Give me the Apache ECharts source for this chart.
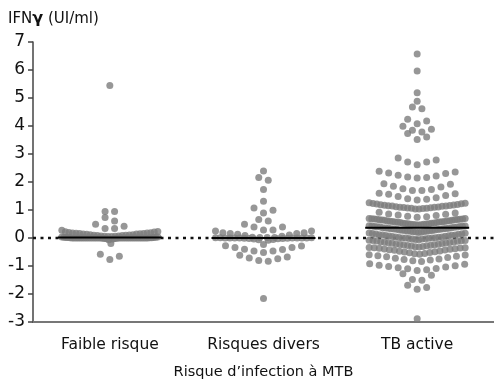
<!DOCTYPE html>
<html>
<head>
<meta charset="utf-8">
<script src="https://cdn.jsdelivr.net/npm/echarts@6/dist/echarts.min.js"></script>
<style>
  html, body { margin: 0; padding: 0; background: #fff; }
  #chart { width: 494px; height: 390px; }
</style>
</head>
<body>
<div id="chart"></div>
<script>
// Groups along the x axis
const categories = ['Faible risque', 'Risques divers', 'TB active'];
const axisTitle = 'Risque d\u2019infection \u00e0 MTB';
const yTicks = [-3, 7, 1]; // min, max, step

// IFN-gamma responses (UI/ml), one value per subject
const lowRisk = [
  5.45, 0.95, 0.95, 0.73, 0.61, 0.49, 0.42, 0.335, 0.335, 0.275,
  -0.58, -0.65, -0.77,
  -0.2, -0.06, -0.04, -0.03, -0.02, -0.02, -0.01, -0.01,
  0, 0, 0, 0, 0, 0, 0, 0, 0, 0, 0, 0, 0, 0, 0, 0, 0, 0, 0, 0, 0, 0, 0, 0, 0, 0, 0, 0, 0, 0,
  0.01, 0.01, 0.01, 0.02, 0.02, 0.02, 0.03, 0.03, 0.04, 0.04,
  0.05, 0.05, 0.06, 0.06, 0.07, 0.07, 0.09, 0.09, 0.1, 0.1, 0.11, 0.12, 0.12, 0.13, 0.14, 0.14,
  0.15, 0.16, 0.16, 0.17, 0.18, 0.18, 0.19, 0.2, 0.21, 0.22, 0.23
];

const variousRisks = [
  2.39, 2.16, 2.06, 1.73, 1.31, 1.07, 0.99, 0.89, 0.66, 0.61, 0.49, 0.39, 0.39, 0.29, 0.29,
  0.03, 0.06, 0.09, 0.11, 0.13, 0.16, 0.16, 0.19, 0.19, 0.25, 0.25,
  -0.23, -0.08, -0.06, -0.05, -0.04, -0.03, -0.02, -0.02, -0.01, -0.01,
  0, 0, 0, 0, 0, 0, 0, 0, 0.01, 0.01, 0.01, 0.02, 0.02, 0.02,
  -0.28, -0.29, -0.34, -0.34, -0.40, -0.41, -0.46, -0.46, -0.52,
  -0.62, -0.68, -0.71, -0.74, -0.80, -0.83,
  -2.16
];

const activeTb = [
  6.57, 5.96, 5.19, 4.88, 4.68, 4.62, 4.24, 4.18, 4.08, 3.99, 3.88, 3.85, 3.79, 3.73, 3.61, 3.52,
  2.86, 2.79, 2.71, 2.71, 2.62,
  2.38, 2.36, 2.32, 2.30, 2.24, 2.21, 2.18, 2.16, 2.14,
  1.94, 1.92, 1.85, 1.82, 1.76, 1.73, 1.70, 1.70,
  1.60, 1.58, 1.56, 1.52, 1.48, 1.44, 1.40, 1.38, 1.36,
  1.04, 1.04, 1.05, 1.06, 1.06, 1.07, 1.08, 1.09, 1.1, 1.1, 1.11, 1.12, 1.13, 1.14, 1.14, 1.15,
  1.16, 1.17, 1.18, 1.19, 1.2, 1.21, 1.22, 1.23, 1.24, 1.26,
  0.74, 0.76, 0.78, 0.80, 0.82, 0.85, 0.86, 0.89, 0.92,
  0.46, 0.47, 0.47, 0.48, 0.49, 0.49, 0.5, 0.51, 0.51, 0.52, 0.53, 0.53, 0.54, 0.55, 0.55, 0.56,
  0.57, 0.57, 0.58, 0.59, 0.59, 0.6, 0.61, 0.61, 0.62, 0.63, 0.63, 0.64, 0.65, 0.65, 0.66, 0.67,
  0.67, 0.68, 0.68, 0.69, 0.7, 0.7,
  0.20, 0.21, 0.21, 0.22, 0.23, 0.24, 0.24, 0.25, 0.26, 0.27, 0.27, 0.28, 0.29, 0.29, 0.3, 0.31,
  0.31, 0.32, 0.33, 0.33, 0.34, 0.35, 0.35, 0.36, 0.37, 0.37, 0.38, 0.39, 0.39, 0.4, 0.41, 0.41,
  0.42, 0.43, 0.43, 0.44,
  -0.06, -0.05, -0.04, -0.04, -0.03, -0.02, -0.01, 0, 0, 0, 0.01, 0.02, 0.03, 0.04, 0.04, 0.05,
  0.06, 0.07, 0.08, 0.09, 0.1, 0.11, 0.11, 0.12, 0.13, 0.14, 0.15, 0.16, 0.17, 0.18,
  -0.32, -0.31, -0.30, -0.29, -0.28, -0.27, -0.26, -0.25, -0.24, -0.23, -0.22, -0.21, -0.20,
  -0.19, -0.18, -0.17, -0.16, -0.15, -0.14, -0.13, -0.12, -0.11, -0.10, -0.09, -0.09, -0.08,
  -0.58, -0.56, -0.55, -0.53, -0.52, -0.50, -0.49, -0.47, -0.46, -0.44, -0.43, -0.42, -0.40,
  -0.39, -0.38, -0.37, -0.36, -0.35, -0.35, -0.34,
  -0.84, -0.81, -0.79, -0.77, -0.75, -0.72, -0.70, -0.67, -0.65, -0.63, -0.61, -0.60,
  -1.16, -1.13, -1.10, -1.09, -1.06, -1.04, -1.02, -0.99, -0.97, -0.94, -0.92,
  -1.51, -1.48, -1.33, -1.28,
  -1.83, -1.77, -1.69,
  -2.88
];

const groups = [lowRisk, variousRisks, activeTb];

const FONT = '"DejaVu Sans", "Noto Sans", sans-serif';
const DOT = 7;          // symbol diameter, px
const ROW_PX = 7;       // vertical extent of one row of dots, px
const STEP_PX = 9.5;    // horizontal spacing inside a row, px
const HALF_PX = 48;     // widest offset from the group centre, px
const MEDIAN_HALF_PX = 52;

const chart = echarts.init(document.getElementById('chart'), null, { renderer: 'canvas' });

chart.setOption({
  animation: false,
  title: {
    text: '{n|IFN}{g|\u03b3}{n| (UI/ml)}',
    left: 3, top: 6,
    textStyle: {
      fontWeight: 'normal',
      rich: {
        n: { fontFamily: FONT, fontSize: 15, fontWeight: 'normal', color: '#111' },
        g: { fontFamily: FONT, fontSize: 16, fontWeight: 'bold', color: '#111' }
      }
    }
  },
  grid: { left: 33, right: 0, top: 42, bottom: 68 },
  xAxis: [
    {
      type: 'category',
      data: categories,
      boundaryGap: true,
      axisLine: { onZero: false, lineStyle: { color: '#777', width: 2 } },
      axisTick: { alignWithLabel: true, length: 5, lineStyle: { color: '#555', width: 1.5 } },
      axisLabel: { fontFamily: FONT, fontSize: 15.5, color: '#111', margin: 15 },
      name: axisTitle,
      nameLocation: 'middle',
      nameGap: 43,
      nameTextStyle: { fontFamily: FONT, fontSize: 14.5, color: '#111' }
    },
    { type: 'value', min: -0.5, max: 2.5, show: false }
  ],
  yAxis: {
    type: 'value',
    min: yTicks[0], max: yTicks[1], interval: yTicks[2],
    axisLine: { show: true, onZero: false, lineStyle: { color: '#444', width: 1.5 } },
    axisTick: { show: true, length: 5, lineStyle: { color: '#444', width: 1.5 } },
    splitLine: { show: false },
    axisLabel: { fontFamily: FONT, fontSize: 17, color: '#111', margin: 8 }
  },
  series: [{ type: 'scatter', xAxisIndex: 1, data: [] }]
});

// pixel size of one data unit on each axis
const xUnit = chart.convertToPixel({ xAxisIndex: 1 }, 1) - chart.convertToPixel({ xAxisIndex: 1 }, 0);
const yUnit = chart.convertToPixel({ yAxisIndex: 0 }, 0) - chart.convertToPixel({ yAxisIndex: 0 }, 1);
const rowSpan = ROW_PX / yUnit;

// Row-based dot plot layout: nearby values share a row, the lowest value of
// a row sits in the middle and higher ones alternate outward (right first).
// Rows wider than the column are squeezed to fit.
function swarm(values, center) {
  const sorted = values.slice().sort((a, b) => a - b);
  const rows = [];
  let cur = null;
  sorted.forEach(v => {
    if (!cur || v - cur.start >= rowSpan - 1e-9) {
      cur = { start: v, vals: [] };
      rows.push(cur);
    }
    cur.vals.push(v);
  });
  const pts = [];
  rows.forEach(row => {
    const n = row.vals.length;
    const step = n > 1 ? Math.min(STEP_PX, (2 * HALF_PX) / (n - 1)) : 0;
    const slots = [];
    for (let i = 0; i < n; i++) slots.push((i - (n - 1) / 2) * step);
    slots.sort((a, b) => {
      const d = Math.round(Math.abs(a) * 1000) - Math.round(Math.abs(b) * 1000);
      return d !== 0 ? d : b - a;
    });
    row.vals.forEach((v, k) => pts.push([center + slots[k] / xUnit, v]));
  });
  return pts;
}

function median(values) {
  const s = values.slice().sort((a, b) => a - b);
  const m = Math.floor(s.length / 2);
  return s.length % 2 ? s[m] : (s[m - 1] + s[m]) / 2;
}

const series = [];

// dotted reference line at zero, underneath the dots
series.push({
  type: 'line', xAxisIndex: 1, yAxisIndex: 0, z: 1,
  symbol: 'none', silent: true,
  lineStyle: { color: '#111', width: 2.6, type: [3, 4.5], cap: 'butt' },
  data: [[-0.5, 0], [2.5, 0]]
});

groups.forEach((vals, i) => {
  series.push({
    type: 'scatter', xAxisIndex: 1, yAxisIndex: 0, z: 3,
    symbol: 'circle', symbolSize: DOT, silent: true,
    itemStyle: { color: '#7d7d7d' },
    data: swarm(vals, i)
  });
});

// median bar of each group, drawn over the dots
const medHalf = MEDIAN_HALF_PX / xUnit;
groups.forEach((vals, i) => {
  const m = median(vals);
  series.push({
    type: 'line', xAxisIndex: 1, yAxisIndex: 0, z: 5,
    symbol: 'none', silent: true,
    lineStyle: { color: '#000', width: 2 },
    data: [[i - medHalf, m], [i + medHalf, m]]
  });
});

chart.setOption({ series: series }, { replaceMerge: ['series'] });
</script>
</body>
</html>
